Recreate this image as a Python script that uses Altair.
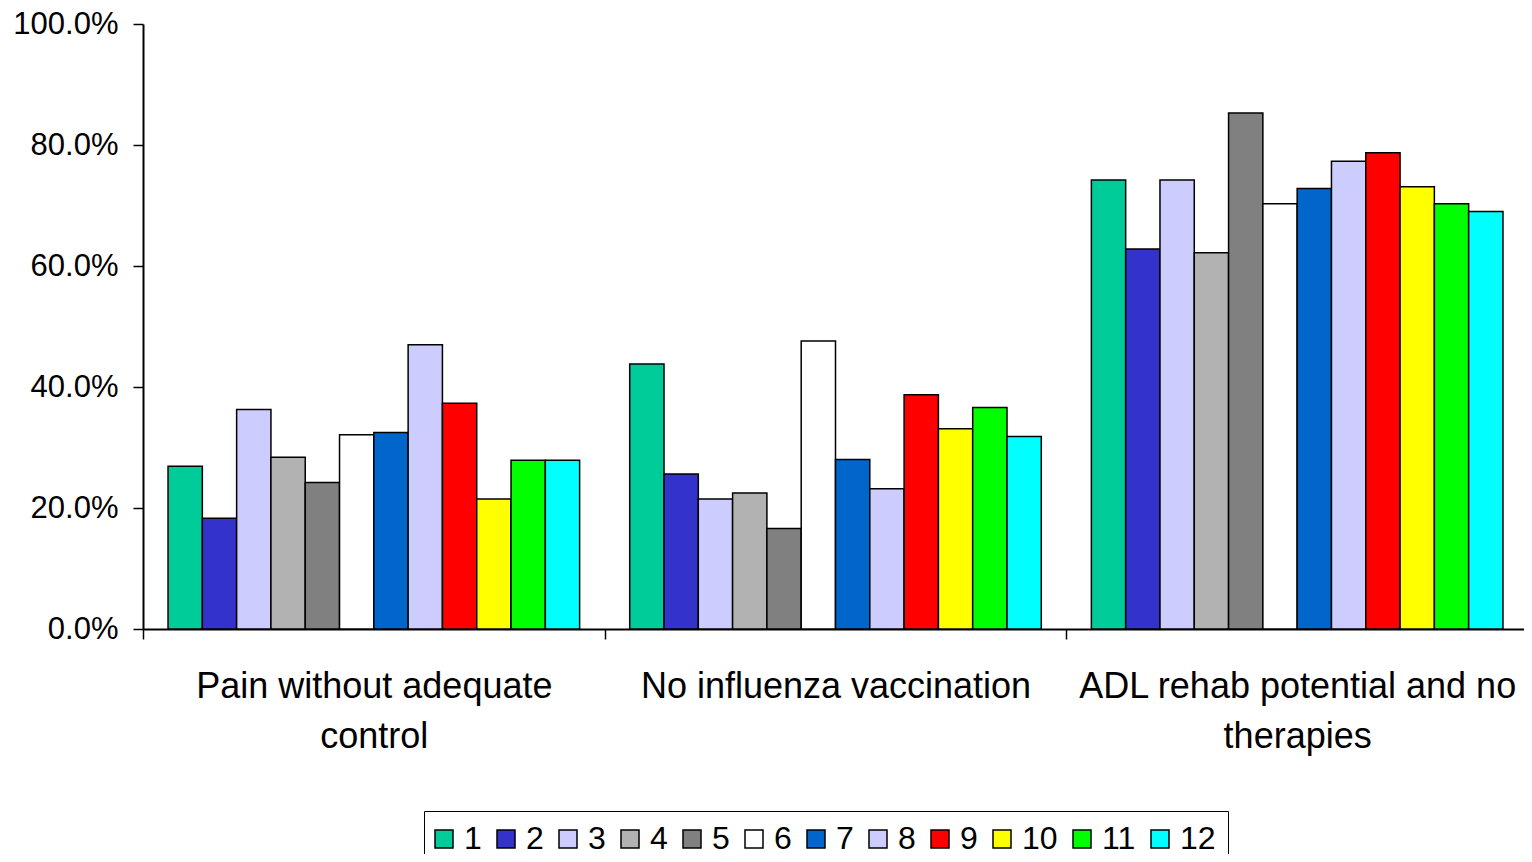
import altair as alt
import pandas as pd

CATEGORIES = ["Pain without adequate control", "No influenza vaccination", "ADL rehab potential and no therapies"]
LABEL_LINES = [["Pain without adequate", "control"], ["No influenza vaccination"], ["ADL rehab potential and no", "therapies"]]
SERIES = ["1", "2", "3", "4", "5", "6", "7", "8", "9", "10", "11", "12"]
COLORS = ["#00CC99", "#3333CC", "#CCCCFF", "#B2B2B2", "#808080", "#FFFFFF",
          "#0066CC", "#CCCCFF", "#FF0000", "#FFFF00", "#00FF00", "#00FFFF"]

PAIN = [0.269, 0.183, 0.363, 0.284, 0.242, 0.321, 0.325, 0.470, 0.373, 0.215, 0.279, 0.279]
FLU = [0.438, 0.256, 0.215, 0.225, 0.166, 0.476, 0.280, 0.232, 0.387, 0.331, 0.366, 0.318]
ADL = [0.742, 0.628, 0.742, 0.622, 0.853, 0.703, 0.728, 0.773, 0.787, 0.731, 0.703, 0.690]

rows = []
for cat, vals in zip(CATEGORIES, [PAIN, FLU, ADL]):
    for s, v in zip(SERIES, vals):
        rows.append({"category": cat, "series": s, "value": v})
df = pd.DataFrame(rows)

label_expr = " : ".join(
    f"datum.value == '{c}' ? {lines!r}" for c, lines in zip(CATEGORIES, LABEL_LINES)
) + " : datum.label"

FONT = "Liberation Sans"

chart = alt.Chart(df).mark_bar(stroke="black", strokeWidth=1.5).encode(
    x=alt.X("category:N", sort=CATEGORIES, title=None,
            scale=alt.Scale(paddingInner=0, paddingOuter=0),
            axis=alt.Axis(labelExpr=label_expr, labelAngle=0, labelFontSize=36,
                          labelLineHeight=50, labelPadding=30, labelColor="black",
                          labelFont=FONT, tickBand="extent", tickSize=10,
                          tickColor="black", tickWidth=1.5, domainColor="black",
                          domainWidth=2, labelLimit=500)),
    xOffset=alt.XOffset("series:N", sort=SERIES,
                        scale=alt.Scale(paddingInner=0, paddingOuter=0.73)),
    y=alt.Y("value:Q", title=None,
            scale=alt.Scale(domain=[0, 1], nice=False),
            axis=alt.Axis(format=".1%", values=[0, 0.2, 0.4, 0.6, 0.8, 1.0],
                          labelFontSize=31, labelFont=FONT, labelColor="black",
                          tickSize=10, tickColor="black", tickWidth=1.5,
                          domainColor="black", domainWidth=2, grid=False,
                          labelPadding=15)),
    color=alt.Color("series:N", sort=SERIES,
                    scale=alt.Scale(domain=SERIES, range=COLORS),
                    legend=alt.Legend(title=None, orient="none", direction="horizontal",
                                      legendX=281, legendY=787,
                                      symbolType="square", symbolSize=324,
                                      symbolStrokeColor="black", symbolStrokeWidth=1.5,
                                      symbolOpacity=1, symbolOffset=-8,
                                      labelFontSize=32, labelFont=FONT, labelColor="black",
                                      labelOffset=4, columnPadding=12,
                                      strokeColor="black", padding=12)),
).properties(
    width=1385, height=605,
    autosize=alt.AutoSizeParams(type="none"),
    padding={"left": 135, "top": 16, "right": -4, "bottom": 225},
).configure_view(stroke=None).configure_axis(labelFont=FONT)

chart.save("out.html", embed_options={"renderer": "svg", "actions": False})
